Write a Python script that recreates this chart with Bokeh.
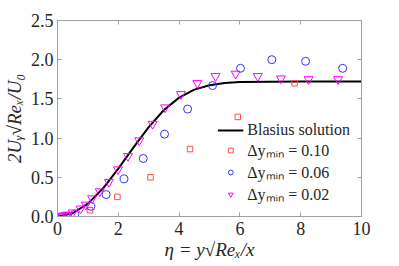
from bokeh.plotting import figure
from bokeh.models import (LinearAxis, FixedTicker, NumeralTickFormatter, Range1d,
                          Legend, LegendItem)
from bokeh.embed import file_html
from bokeh.resources import INLINE

# Blasius solution (eta*f' - f)
blasius_eta = [0, 0.5, 1.0, 1.5, 2.0, 2.5, 3.0, 3.5, 4.0, 4.5, 5.0, 5.5, 6.0, 7.0, 8.0, 10.0]
blasius_v = [0, 0.0415, 0.164, 0.360, 0.610, 0.882, 1.141, 1.358, 1.516, 1.618, 1.675,
             1.703, 1.714, 1.720, 1.721, 1.721]

# dy_min = 0.10
sq_eta = [0.30, 1.07, 1.97, 3.06, 4.36, 5.93, 7.80]
sq_v = [0.02, 0.08, 0.25, 0.50, 0.86, 1.27, 1.70]

# dy_min = 0.06
ci_eta = [0.18, 0.57, 1.10, 1.60, 2.19, 2.82, 3.52, 4.28, 5.10, 6.02, 7.05, 8.16, 9.38]
ci_v = [0.00, 0.03, 0.13, 0.28, 0.48, 0.74, 1.05, 1.37, 1.67, 1.89, 2.00, 1.98, 1.89]

# dy_min = 0.02
tr_eta = [0.03, 0.16, 0.33, 0.50, 0.76, 0.93, 1.14, 1.39, 1.69, 1.99, 2.32, 2.69, 3.13,
          3.54, 4.06, 4.60, 5.20, 5.86, 6.59, 7.35, 8.26, 9.23]
tr_v = [0.00, 0.01, 0.02, 0.05, 0.10, 0.15, 0.23, 0.32, 0.44, 0.60, 0.77, 0.97, 1.18,
        1.39, 1.56, 1.70, 1.79, 1.82, 1.79, 1.76, 1.75, 1.75]

x_ticks = [0, 2, 4, 6, 8, 10]
y_ticks = [0, 0.5, 1.0, 1.5, 2.0, 2.5]

FONT = "Liberation Serif"
TXT = "#262626"
AX = "#a0a0a0"

p = figure(width=390, height=262, output_backend="svg", toolbar_location=None,
           x_range=Range1d(0, 10), y_range=Range1d(0, 2.5),
           min_border_left=55, min_border_right=29, min_border_top=20, min_border_bottom=46)
p.xgrid.visible = False
p.ygrid.visible = False
p.outline_line_color = AX
p.outline_line_width = 1

def style(ax, ticks, labels=True):
    ax.ticker = FixedTicker(ticks=ticks)
    ax.major_tick_in = 4
    ax.major_tick_out = 0
    ax.minor_tick_line_color = None
    ax.axis_line_color = AX
    ax.major_tick_line_color = AX
    ax.major_label_text_font = FONT
    ax.major_label_text_font_size = "18px"
    ax.major_label_text_color = TXT
    ax.axis_label_text_font = FONT
    ax.axis_label_text_font_size = "19px"
    ax.axis_label_text_font_style = "italic"
    ax.axis_label_text_color = TXT
    if not labels:
        ax.major_label_overrides = {t: "" for t in ticks}
        ax.major_label_standoff = 0

style(p.xaxis[0], x_ticks)
style(p.yaxis[0], y_ticks)
p.yaxis[0].formatter = NumeralTickFormatter(format="0.0")
p.xaxis[0].major_label_standoff = 5
p.yaxis[0].major_label_standoff = 4
p.xaxis[0].axis_label = "η = y√Reₓ/x"
p.yaxis[0].axis_label = "2Uᵧ√Reₓ/U₀"
p.xaxis[0].axis_label_standoff = 1
p.yaxis[0].axis_label_standoff = 3

top = LinearAxis()
style(top, x_ticks, labels=False)
p.add_layout(top, "above")
right = LinearAxis()
style(right, y_ticks, labels=False)
p.add_layout(right, "right")

r_line = p.line(blasius_eta, blasius_v, line_color="black", line_width=2)
r_sq = p.scatter(sq_eta, sq_v, marker="square", size=5.5, fill_color=None,
                 line_color="#ff4d4d", line_width=1)
r_ci = p.scatter(ci_eta, ci_v, marker="circle", size=8, fill_color=None,
                 line_color="#3333ff", line_width=1)
r_tr = p.scatter(tr_eta, tr_v, marker="inverted_triangle", size=9, fill_color=None,
                 line_color="#ff00ff", line_width=1)

legend = Legend(items=[
    LegendItem(label="Blasius solution", renderers=[r_line]),
    LegendItem(label="Δyₘᵢₙ = 0.10", renderers=[r_sq]),
    LegendItem(label="Δyₘᵢₙ = 0.06", renderers=[r_ci]),
    LegendItem(label="Δyₘᵢₙ = 0.02", renderers=[r_tr]),
], location="bottom_right")
legend.background_fill_alpha = 0
legend.border_line_color = None
legend.label_text_font = FONT
legend.label_text_font_size = "16px"
legend.label_text_color = TXT
legend.glyph_width = 26
legend.glyph_height = 12
legend.spacing = 0
legend.padding = 2
legend.margin = 11
legend.label_standoff = 4
legend.label_height = 12
p.add_layout(legend)

open("out.html", "w").write(file_html(p, INLINE))
